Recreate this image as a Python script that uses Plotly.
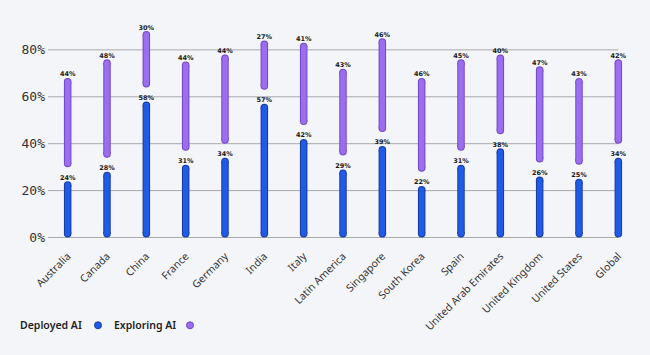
import plotly.graph_objects as go

countries = ["Australia", "Canada", "China", "France", "Germany", "India", "Italy",
             "Latin America", "Singapore", "South Korea", "Spain",
             "United Arab Emirates", "United Kingdom", "United States", "Global"]
deployed = [24, 28, 58, 31, 34, 57, 42, 29, 39, 22, 31, 38, 26, 25, 34]
exploring = [44, 48, 30, 44, 44, 27, 41, 43, 46, 46, 45, 40, 47, 43, 42]
tick_vals = [0, 20, 40, 60, 80]
tick_text = ["0%", "20%", "40%", "60%", "80%"]

BLUE, BLUE_LINE = "#1f5be6", "#1a3c9c"
PURP, PURP_LINE = "#9b6ef0", "#7447c6"
GAP = 6

# geometry of the plot area (pixels)
L, R, T, B = 48, 12, 18, 113.5
W, H = 650, 355
YR = [-1.5, 93.6]
PW, PH = W - L - R, H - T - B
PX_PER_UNIT = PH / (YR[1] - YR[0])

OUT_D, IN_D = 7.5, 5.5      # outline / fill thickness in px
R_UNITS = (OUT_D / 2) / PX_PER_UNIT

fig = go.Figure()


def add_segment(lo, hi, labels, fill, line):
    xs, ys, mx, my = [], [], [], []
    for c, a, b in zip(countries, lo, hi):
        a2, b2 = a + R_UNITS, b - R_UNITS
        xs += [c, c, None]
        ys += [a2, b2, None]
        mx += [c, c]
        my += [a2, b2]
    for d, col in [(OUT_D, line), (IN_D, fill)]:
        fig.add_trace(go.Scatter(x=xs, y=ys, mode="lines", line=dict(color=col, width=d),
                                 hoverinfo="skip", showlegend=False, connectgaps=False))
        fig.add_trace(go.Scatter(x=mx, y=my, mode="markers",
                                 marker=dict(color=col, size=d, line=dict(width=0)),
                                 hoverinfo="skip", showlegend=False))
    fig.add_trace(go.Scatter(x=countries, y=hi, mode="text", text=[f"{v}%" for v in labels],
                             textposition="top center", cliponaxis=False,
                             textfont=dict(family="DejaVu Sans", size=6.5, color="#1a1a1a",
                                           weight="bold"),
                             hoverinfo="skip", showlegend=False))


add_segment([0] * len(deployed), deployed, deployed, BLUE, BLUE_LINE)
add_segment([d + GAP for d in deployed], [d + e for d, e in zip(deployed, exploring)],
            exploring, PURP, PURP_LINE)

shapes = []
for v in tick_vals:
    shapes.append(dict(type="line", xref="x", yref="y", x0=-0.5, x1=14, y0=v, y1=v,
                       line=dict(color="#a9a9ad", width=1), layer="below"))


def px_x(px):
    return (px - L) / PW


def px_y(py):
    return (H - B - py) / PH


LEG_Y = 326
annotations = [
    dict(text="Deployed AI", x=px_x(84), y=px_y(LEG_Y), xref="paper", yref="paper",
         xanchor="right", yanchor="middle", showarrow=False,
         font=dict(family="Noto Sans", size=10.5, color="#1e1e1e", weight=600)),
    dict(text="Exploring AI", x=px_x(178), y=px_y(LEG_Y), xref="paper", yref="paper",
         xanchor="right", yanchor="middle", showarrow=False,
         font=dict(family="Noto Sans", size=10.5, color="#1e1e1e", weight=600)),
]
for cx, fc, lc in [(98, BLUE, BLUE_LINE), (190, PURP, PURP_LINE)]:
    shapes.append(dict(type="circle", xref="paper", yref="paper",
                       x0=px_x(cx - 3.5), x1=px_x(cx + 3.5),
                       y0=px_y(LEG_Y + 3.5), y1=px_y(LEG_Y - 3.5),
                       fillcolor=fc, line=dict(color=lc, width=1)))

fig.update_layout(
    width=W, height=H,
    margin=dict(l=L, r=R, t=T, b=B),
    paper_bgcolor="#f4f5f8", plot_bgcolor="#f4f5f8",
    showlegend=False,
    shapes=shapes,
    annotations=annotations,
    xaxis=dict(range=[-0.5, 14.5], tickangle=-45, showgrid=False, zeroline=False,
               showline=False, ticks="", automargin=False, ticklabelstandoff=6,
               tickfont=dict(family="Noto Sans", size=10.5, color="#333333")),
    yaxis=dict(range=YR, tickvals=tick_vals, ticktext=tick_text, automargin=False,
               showgrid=False, zeroline=False, showline=False, ticks="",
               ticklabelstandoff=2,
               tickfont=dict(family="DejaVu Sans Mono", size=13, color="#333333")),
)

fig.write_html("out.html", config={"displayModeBar": False},
               post_script="document.body.style.margin='0';")
